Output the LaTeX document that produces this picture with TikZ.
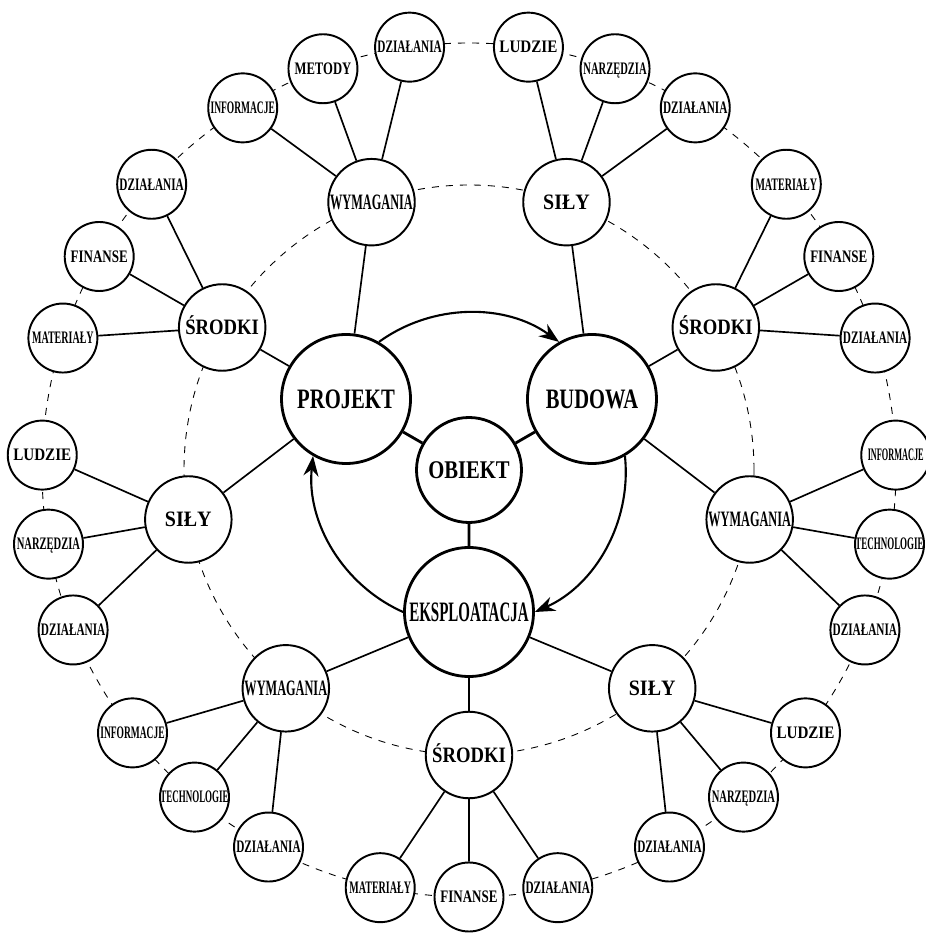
\documentclass[tikz,border=0pt]{standalone}
\usepackage{fontspec}
\setmainfont{Liberation Serif}
\usetikzlibrary{arrows.meta}

\newcommand{\squeeze}[2]{\makebox[0pt]{\scalebox{#1}[1]{#2}}}

\begin{document}
\begin{tikzpicture}[
    phase/.style={draw, circle, line width=1.6pt, fill=white, minimum size=2.58cm, inner sep=0pt,
      text height=10.5pt, text depth=0pt, font=\fontsize{16}{16}\selectfont\bfseries},
    core/.style={phase, minimum size=2.1cm, text height=9.5pt, font=\fontsize{14.5}{14.5}\selectfont\bfseries},
    group/.style={draw, circle, line width=1.1pt, fill=white, minimum size=1.73cm, inner sep=0pt,
      text height=8.2pt, text depth=0pt, font=\fontsize{12.5}{12.5}\selectfont\bfseries},
    leaf/.style={draw, circle, line width=1.1pt, fill=white, minimum size=1.38cm, inner sep=0pt,
      text height=6.6pt, text depth=0pt, font=\fontsize{10}{10}\selectfont\bfseries},
    link/.style={line width=0.95pt},
    hub/.style={line width=1.6pt},
    ring/.style={line width=0.5pt, dash pattern=on 4pt off 4pt},
    flow/.style={-{Stealth[length=4mm, width=3mm]}, line width=1.2pt},
  ]
  \useasboundingbox (-9.38,-9.26) rectangle (9.12,9.40);

  % dashed rings
  \coordinate (c) at (0,0);
  \draw[ring] (c) circle[radius=5.7];
  \draw[ring] (c) circle[radius=8.54];

  % object and its three phases
  \node[core] (obiekt) at (c) {\squeeze{0.81}{OBIEKT}};
  \node[phase] (projekt) at (150:2.84) {\squeeze{0.735}{PROJEKT}};
  \node[phase] (budowa) at (30:2.84) {\squeeze{0.73}{BUDOWA}};
  \node[phase] (eksploatacja) at (270:2.84) {\squeeze{0.533}{EKSPLOATACJA}};

  % PROJEKT
  \node[group] (p-wym) at (110:5.7) {\squeeze{0.56}{WYMAGANIA}};
  \node[group] (p-sro) at (150:5.7) {\squeeze{0.85}{ŚRODKI}};
  \node[group] (p-sil) at (190:5.7) {\squeeze{0.91}{SIŁY}};
  \node[leaf] (p-wym-dz) at (98:8.54) {\squeeze{0.64}{DZIAŁANIA}};
  \node[leaf] (p-wym-met) at (110:8.54) {\squeeze{0.72}{METODY}};
  \node[leaf] (p-wym-inf) at (122:8.54) {\squeeze{0.54}{INFORMACJE}};
  \node[leaf] (p-sro-dz) at (138:8.54) {\squeeze{0.64}{DZIAŁANIA}};
  \node[leaf] (p-sro-fin) at (150:8.54) {\squeeze{0.74}{FINANSE}};
  \node[leaf] (p-sro-mat) at (162:8.54) {\squeeze{0.57}{MATERIAŁY}};
  \node[leaf] (p-sil-lud) at (178:8.54) {\squeeze{0.86}{LUDZIE}};
  \node[leaf] (p-sil-nar) at (190:8.54) {\squeeze{0.6}{NARZĘDZIA}};
  \node[leaf] (p-sil-dz) at (202:8.54) {\squeeze{0.64}{DZIAŁANIA}};

  % BUDOWA
  \node[group] (b-sil) at (70:5.7) {\squeeze{0.91}{SIŁY}};
  \node[group] (b-sro) at (30:5.7) {\squeeze{0.85}{ŚRODKI}};
  \node[group] (b-wym) at (-10:5.7) {\squeeze{0.56}{WYMAGANIA}};
  \node[leaf] (b-sil-lud) at (82:8.54) {\squeeze{0.86}{LUDZIE}};
  \node[leaf] (b-sil-nar) at (70:8.54) {\squeeze{0.6}{NARZĘDZIA}};
  \node[leaf] (b-sil-dz) at (58:8.54) {\squeeze{0.64}{DZIAŁANIA}};
  \node[leaf] (b-sro-mat) at (42:8.54) {\squeeze{0.57}{MATERIAŁY}};
  \node[leaf] (b-sro-fin) at (30:8.54) {\squeeze{0.74}{FINANSE}};
  \node[leaf] (b-sro-dz) at (18:8.54) {\squeeze{0.64}{DZIAŁANIA}};
  \node[leaf] (b-wym-inf) at (2:8.54) {\squeeze{0.47}{INFORMACJE}};
  \node[leaf] (b-wym-tech) at (-10:8.54) {\squeeze{0.51}{TECHNOLOGIE}};
  \node[leaf] (b-wym-dz) at (-22:8.54) {\squeeze{0.64}{DZIAŁANIA}};

  % EKSPLOATACJA
  \node[group] (e-sil) at (-50:5.7) {\squeeze{0.91}{SIŁY}};
  \node[group] (e-sro) at (270:5.7) {\squeeze{0.85}{ŚRODKI}};
  \node[group] (e-wym) at (230:5.7) {\squeeze{0.56}{WYMAGANIA}};
  \node[leaf] (e-sil-lud) at (-38:8.54) {\squeeze{0.86}{LUDZIE}};
  \node[leaf] (e-sil-nar) at (-50:8.54) {\squeeze{0.6}{NARZĘDZIA}};
  \node[leaf] (e-sil-dz) at (-62:8.54) {\squeeze{0.64}{DZIAŁANIA}};
  \node[leaf] (e-sro-dz) at (282:8.54) {\squeeze{0.64}{DZIAŁANIA}};
  \node[leaf] (e-sro-fin) at (270:8.54) {\squeeze{0.74}{FINANSE}};
  \node[leaf] (e-sro-mat) at (258:8.54) {\squeeze{0.57}{MATERIAŁY}};
  \node[leaf] (e-wym-dz) at (242:8.54) {\squeeze{0.64}{DZIAŁANIA}};
  \node[leaf] (e-wym-tech) at (230:8.54) {\squeeze{0.51}{TECHNOLOGIE}};
  \node[leaf] (e-wym-inf) at (218:8.54) {\squeeze{0.54}{INFORMACJE}};

  % links
  \draw[hub] (obiekt) -- (projekt) (obiekt) -- (budowa) (obiekt) -- (eksploatacja);
  \draw[link] (projekt) -- (p-wym) (projekt) -- (p-sro) (projekt) -- (p-sil);
  \draw[link] (budowa) -- (b-sil) (budowa) -- (b-sro) (budowa) -- (b-wym);
  \draw[link] (eksploatacja) -- (e-sil) (eksploatacja) -- (e-sro) (eksploatacja) -- (e-wym);
  \draw[link] (p-wym) -- (p-wym-dz) (p-wym) -- (p-wym-met) (p-wym) -- (p-wym-inf);
  \draw[link] (p-sro) -- (p-sro-dz) (p-sro) -- (p-sro-fin) (p-sro) -- (p-sro-mat);
  \draw[link] (p-sil) -- (p-sil-lud) (p-sil) -- (p-sil-nar) (p-sil) -- (p-sil-dz);
  \draw[link] (b-sil) -- (b-sil-lud) (b-sil) -- (b-sil-nar) (b-sil) -- (b-sil-dz);
  \draw[link] (b-sro) -- (b-sro-mat) (b-sro) -- (b-sro-fin) (b-sro) -- (b-sro-dz);
  \draw[link] (b-wym) -- (b-wym-inf) (b-wym) -- (b-wym-tech) (b-wym) -- (b-wym-dz);
  \draw[link] (e-sil) -- (e-sil-lud) (e-sil) -- (e-sil-nar) (e-sil) -- (e-sil-dz);
  \draw[link] (e-sro) -- (e-sro-dz) (e-sro) -- (e-sro-fin) (e-sro) -- (e-sro-mat);
  \draw[link] (e-wym) -- (e-wym-dz) (e-wym) -- (e-wym-tech) (e-wym) -- (e-wym-inf);

  % life cycle
  \draw[flow] (projekt.60) to[out=36, in=144, looseness=0.94] (budowa.120);
  \draw[flow] (budowa.-60) to[out=-84, in=24, looseness=0.94] (eksploatacja.0);
  \draw[flow] (eksploatacja.180) to[out=156, in=264, looseness=0.94] (projekt.240);
\end{tikzpicture}
\end{document}
